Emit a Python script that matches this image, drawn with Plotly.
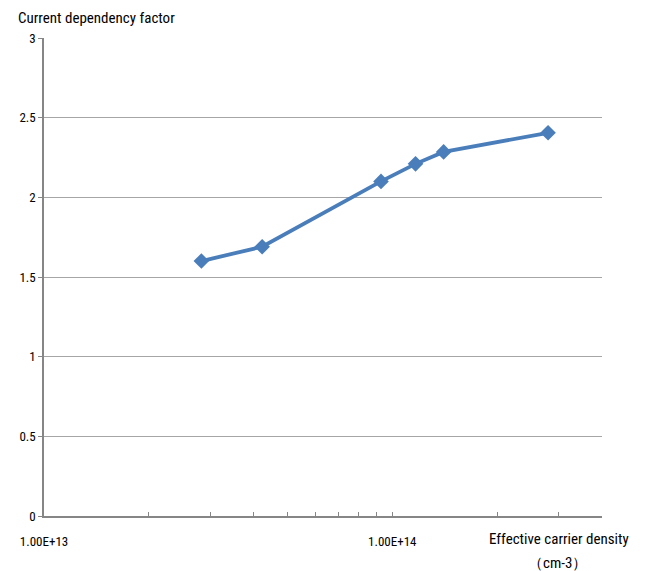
import plotly.graph_objects as go

density = [2.83e13, 4.23e13, 9.28e13, 1.166e14, 1.404e14, 2.80e14]
factor = [1.60, 1.69, 2.10, 2.21, 2.285, 2.405]

x_tickvals = [1e13, 2e13, 3e13, 4e13, 5e13, 6e13, 7e13, 8e13, 9e13, 1e14, 2e14, 3e14, 4e14]
x_ticktext = ["1.00E+13", "", "", "", "", "", "", "", "", "1.00E+14", "", "", ""]
y_tickvals = [0, 0.5, 1, 1.5, 2, 2.5, 3]
y_ticktext = ["0", "0.5", "1", "1.5", "2", "2.5", "3"]

FONT = "Liberation Sans Narrow, Arial Narrow, Roboto Condensed, sans-serif"

# page has an 8px body margin; figure sized to fit the 650x571 window
W, H = 642, 563
L, R, T, B = 35.5, 48.3, 30, 55.3
PW, PH = W - L - R, H - T - B

fig = go.Figure()
fig.add_trace(go.Scatter(
    x=density, y=factor, mode="lines+markers",
    line=dict(color="#4a7ebb", width=3.8),
    marker=dict(symbol="diamond", size=12, color="#4a7ebb"),
    showlegend=False,
))

fig.update_layout(
    width=W, height=H,
    margin=dict(l=L, r=R, t=T, b=B),
    paper_bgcolor="white", plot_bgcolor="white",
    font=dict(family=FONT, size=13, color="#000000"),
    xaxis=dict(
        type="log", range=[13, 14.60206],
        tickvals=x_tickvals, ticktext=x_ticktext,
        ticks="inside", ticklen=4, tickcolor="#868686", tickwidth=1,
        showline=True, linecolor="#868686", linewidth=1.5,
        showgrid=False, zeroline=False,
        tickfont=dict(family=FONT, size=13),
        ticklabelstandoff=13,
    ),
    yaxis=dict(
        range=[0, 3],
        tickvals=y_tickvals, ticktext=y_ticktext,
        ticks="outside", ticklen=4, tickcolor="#868686",
        showline=True, linecolor="#868686", linewidth=1.5,
        showgrid=True, gridcolor="#a6a6a6", gridwidth=1,
        zeroline=False,
        tickfont=dict(family=FONT, size=13),
    ),
)

fig.add_annotation(text="Current dependency factor", xref="paper", yref="paper",
                   x=-28 / PW, y=1 + 20 / PH, xanchor="left", yanchor="middle",
                   showarrow=False, font=dict(family=FONT, size=15))
fig.add_annotation(text="Effective carrier density", xref="paper", yref="paper",
                   x=443.5 / PW, y=-23.3 / PH, xanchor="left", yanchor="middle",
                   showarrow=False, font=dict(family=FONT, size=15))
fig.add_annotation(text="（cm-3）", xref="paper", yref="paper",
                   x=513.5 / PW, y=-47.3 / PH, xanchor="center", yanchor="middle",
                   showarrow=False, font=dict(family=FONT, size=15))

fig.write_html("out.html")
